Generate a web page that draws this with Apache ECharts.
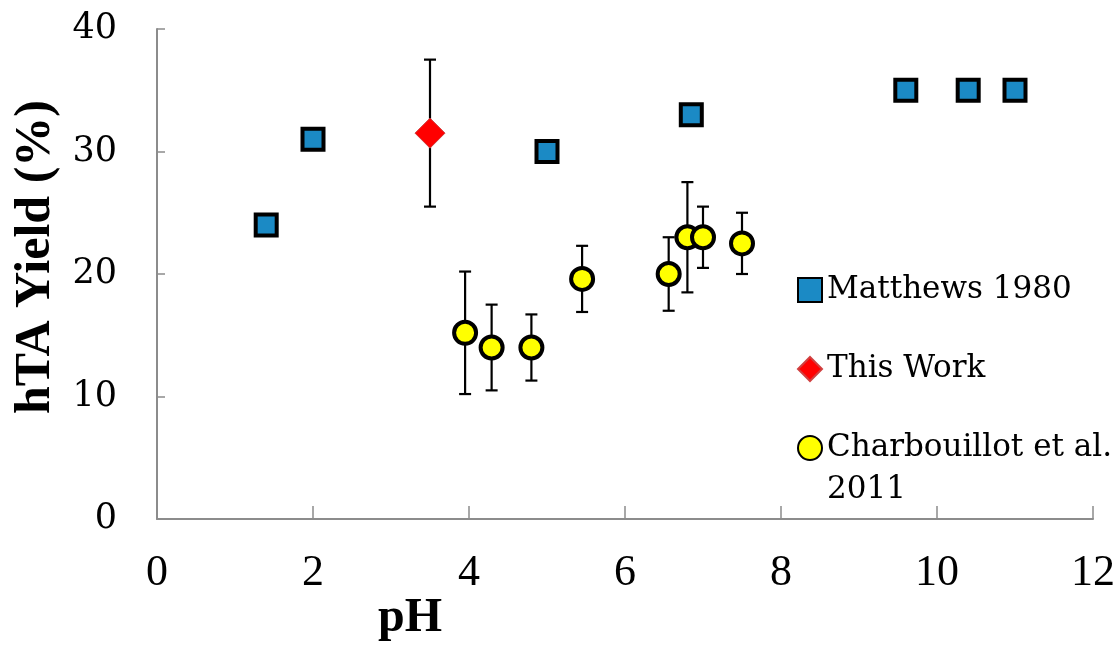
<!DOCTYPE html>
<html>
<head>
<meta charset="utf-8">
<script src="https://cdn.jsdelivr.net/npm/echarts@6/dist/echarts.min.js"></script>
<style>
  html, body { margin: 0; padding: 0; background: #fff; }
  #chart { width: 1120px; height: 645px; }
</style>
</head>
<body>
<div id="chart"></div>
<script>
// Matthews 1980
const matthewsPH = [1.4, 2.0, 5.0, 6.85, 9.6, 10.4, 11.0];
const matthewsYield = [24, 31, 30, 33, 35, 35, 35];

// This Work (with error bar)
const thisWorkPH = [3.5];
const thisWorkYield = [31.5];
const thisWorkLow = [25.5];
const thisWorkHigh = [37.5];

// Charbouillot et al. 2011 (with error bars)
const charbPH = [3.95, 4.29, 4.8, 5.45, 6.56, 6.8, 7.0, 7.5];
const charbYield = [15.2, 14.0, 14.0, 19.6, 20.0, 23.0, 23.0, 22.5];
const charbLow = [10.2, 10.5, 11.3, 16.9, 17.0, 18.5, 20.5, 20.0];
const charbHigh = [20.2, 17.5, 16.7, 22.3, 23.0, 27.5, 25.5, 25.0];

const xTicks = { min: 0, max: 12, interval: 2 };
const yTicks = { min: 0, max: 40, interval: 10 };

const nameMatthews = 'Matthews 1980';
const nameThisWork = 'This Work';
const nameCharb = 'Charbouillot et al.\n2011';

function pairs(xs, ys) { return xs.map((x, i) => [x, ys[i]]); }
function triples(xs, lo, hi) { return xs.map((x, i) => [x, lo[i], hi[i]]); }

// Vertical error bar with caps, from [x, low, high]
function errorBar(params, api) {
  const x = api.value(0);
  const top = api.coord([x, api.value(2)]);
  const bot = api.coord([x, api.value(1)]);
  const half = 6;
  const style = { stroke: '#000', lineWidth: 2.2 };
  return {
    type: 'group',
    children: [
      { type: 'line', shape: { x1: top[0], y1: top[1], x2: bot[0], y2: bot[1] }, style },
      { type: 'line', shape: { x1: top[0] - half, y1: top[1], x2: top[0] + half, y2: top[1] }, style },
      { type: 'line', shape: { x1: bot[0] - half, y1: bot[1], x2: bot[0] + half, y2: bot[1] }, style }
    ]
  };
}

// Legend text is laid out as three lines so the icon sits on the first text line
function legendText(name) {
  const parts = name.split('\n');
  return '\n' + parts[0] + '\n' + (parts[1] || '');
}

const axisGrey = '#8c8c8c';
const chart = echarts.init(document.getElementById('chart'));
chart.setOption({
  animation: false,
  backgroundColor: '#fff',
  title: {
    text: 'pH',
    left: 378,
    top: 595,
    padding: 0,
    textStyle: { fontFamily: 'Liberation Serif', fontWeight: 'bold', fontSize: 48, color: '#000' }
  },
  grid: { left: 157, right: 27, top: 29, bottom: 126 },
  legend: {
    orient: 'vertical',
    left: 797,
    top: 227,
    padding: 0,
    itemWidth: 24,
    itemHeight: 24,
    itemGap: -47,
    formatter: legendText,
    textStyle: { fontFamily: 'DejaVu Serif', fontSize: 31, color: '#000', lineHeight: 42 },
    data: [nameMatthews, nameThisWork, nameCharb]
  },
  xAxis: {
    type: 'value',
    min: xTicks.min, max: xTicks.max, interval: xTicks.interval,
    axisLine: { show: true, lineStyle: { color: axisGrey, width: 2 } },
    axisTick: { show: true, inside: true, length: 13, lineStyle: { color: axisGrey, width: 1.5 } },
    splitLine: { show: false },
    axisLabel: { margin: 32, fontFamily: 'Liberation Serif', fontSize: 44, color: '#000' }
  },
  yAxis: {
    type: 'value',
    min: yTicks.min, max: yTicks.max, interval: yTicks.interval,
    name: 'hTA Yield (%)',
    nameLocation: 'middle',
    nameGap: 94,
    nameTextStyle: { fontFamily: 'Liberation Serif', fontWeight: 'bold', fontSize: 50, color: '#000', padding: [0, 0, 0, 34] },
    axisLine: { show: true, lineStyle: { color: axisGrey, width: 2 } },
    axisTick: { show: true, inside: true, length: 8, lineStyle: { color: axisGrey, width: 1.5 } },
    splitLine: { show: false },
    axisLabel: { margin: 40, fontFamily: 'DejaVu Serif', fontSize: 35, color: '#000' }
  },
  series: [
    {
      type: 'custom',
      name: 'thisWorkErr',
      renderItem: errorBar,
      data: triples(thisWorkPH, thisWorkLow, thisWorkHigh),
      z: 1,
      silent: true
    },
    {
      type: 'custom',
      name: 'charbErr',
      renderItem: errorBar,
      data: triples(charbPH, charbLow, charbHigh),
      z: 1,
      silent: true
    },
    {
      type: 'scatter',
      name: nameMatthews,
      symbol: 'rect',
      symbolSize: 21,
      itemStyle: { color: '#1b8ac5', borderColor: '#000', borderWidth: 4, opacity: 1 },
      data: pairs(matthewsPH, matthewsYield),
      z: 3
    },
    {
      type: 'scatter',
      name: nameThisWork,
      symbol: 'diamond',
      symbolSize: 30,
      itemStyle: { color: '#ff0000', borderColor: '#d04040', borderWidth: 1, opacity: 1 },
      data: pairs(thisWorkPH, thisWorkYield),
      z: 3
    },
    {
      type: 'scatter',
      name: nameCharb,
      symbol: 'circle',
      symbolSize: 22,
      itemStyle: { color: '#ffff00', borderColor: '#000', borderWidth: 4, opacity: 1 },
      data: pairs(charbPH, charbYield),
      z: 3
    }
  ]
});
</script>
</body>
</html>
